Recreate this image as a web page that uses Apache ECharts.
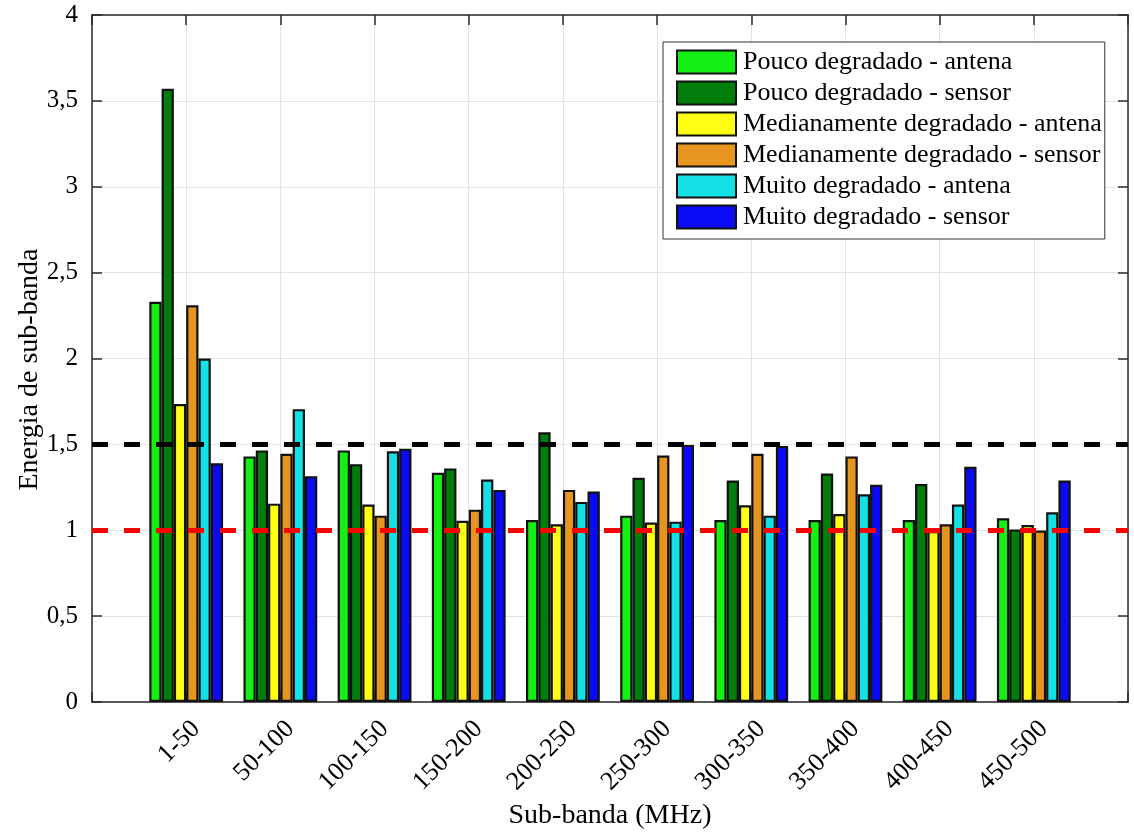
<!DOCTYPE html>
<html>
<head>
<meta charset="utf-8">
<title>Energia de sub-banda</title>
<script src="https://cdn.jsdelivr.net/npm/echarts@6/dist/echarts.min.js"></script>
<style>
  html, body { margin: 0; padding: 0; background: #fff; }
  #chart { width: 1134px; height: 834px; }
</style>
</head>
<body>
<div id="chart"></div>
<script>
// Sub-bands (MHz)
const subBandas = ['1-50', '50-100', '100-150', '150-200', '200-250',
                   '250-300', '300-350', '350-400', '400-450', '450-500'];

// Sub-band energy for each degradation level and measuring device
const poucoAntena   = [2.33, 1.43, 1.465, 1.335, 1.06, 1.085, 1.06, 1.06, 1.06, 1.07];
const poucoSensor   = [3.57, 1.465, 1.385, 1.36, 1.57, 1.305, 1.29, 1.33, 1.27, 1.005];
const medianoAntena = [1.735, 1.155, 1.15, 1.055, 1.035, 1.045, 1.145, 1.095, 0.995, 1.03];
const medianoSensor = [2.31, 1.445, 1.085, 1.12, 1.235, 1.435, 1.445, 1.43, 1.035, 0.998];
const muitoAntena   = [2.0, 1.705, 1.46, 1.295, 1.165, 1.05, 1.085, 1.21, 1.15, 1.105];
const muitoSensor   = [1.39, 1.315, 1.475, 1.235, 1.225, 1.497, 1.49, 1.265, 1.37, 1.29];

const nomesSeries = [
  'Pouco degradado - antena',
  'Pouco degradado - sensor',
  'Medianamente degradado - antena',
  'Medianamente degradado - sensor',
  'Muito degradado - antena',
  'Muito degradado - sensor'
];

// Reference levels (upper and lower threshold)
const limiares = [1.5, 1.0];

// Y axis ticks
const yTicks = [0, 0.5, 1, 1.5, 2, 2.5, 3, 3.5, 4];

const valores = [poucoAntena, poucoSensor, medianoAntena, medianoSensor, muitoAntena, muitoSensor];
const cores = ['#14f014', '#007d0a', '#ffff14', '#e6961e', '#14e1e6', '#0a0af5'];
const fonte = "'Liberation Serif', 'Times New Roman', serif";

// empty slots at both ends so the bars sit at x = 1..10 on a 0..11 axis
const eixoX = [''].concat(subBandas, ['']);
const pad = (arr) => [null].concat(arr, [null]);

const chart = echarts.init(document.getElementById('chart'), null, { renderer: 'canvas' });

const eixoCor = '#2b2b2b';
const gradeCor = '#e3e3e3';

const series = valores.map((v, i) => ({
  name: nomesSeries[i],
  type: 'bar',
  xAxisIndex: 0,
  yAxisIndex: 0,
  data: pad(v),
  barWidth: 12.3,
  barGap: 0,
  itemStyle: { color: cores[i], borderColor: '#111111', borderWidth: 2.2 },
  emphasis: { disabled: true }
}));

series[series.length - 1].markLine = {
  silent: true,
  symbol: 'none',
  label: { show: false },
  lineStyle: { type: [16, 16], width: 5 },
  data: [
    { yAxis: limiares[0], lineStyle: { color: '#000000', type: [16, 16], width: 5 } },
    { yAxis: limiares[1], lineStyle: { color: '#ff0000', type: [16, 16], width: 5 } }
  ]
};

const yMin = yTicks[0], yMax = yTicks[yTicks.length - 1], yStep = yTicks[1] - yTicks[0];

const eixoLinha = { show: true, onZero: false, lineStyle: { color: eixoCor, width: 1.5 } };
const ticksDentro = { show: true, inside: true, length: 10, lineStyle: { color: eixoCor, width: 1.5 } };

chart.setOption({
  animation: false,
  backgroundColor: '#ffffff',
  grid: [
    { left: 92, top: 15, right: 6, bottom: 132, containLabel: false, outerBoundsMode: 'none' },
    // companion grid, nudged right, that only carries the slanted category labels
    { left: 102, top: 15, width: 1036, bottom: 132, containLabel: false, outerBoundsMode: 'none', show: false }
  ],
  legend: {
    orient: 'vertical',
    left: 663,
    top: 42,
    z: 20,
    icon: 'rect',
    itemWidth: 59,
    itemHeight: 23,
    itemGap: 5,
    padding: [7, 3, 9, 13],
    backgroundColor: '#ffffff',
    borderColor: '#333333',
    borderWidth: 1,
    borderRadius: 0,
    selectedMode: false,
    textStyle: { fontFamily: fonte, fontSize: 26, lineHeight: 23, color: '#000', padding: [0, 0, 0, 2] },
    data: nomesSeries
  },
  xAxis: [
    {
      gridIndex: 0,
      type: 'category',
      data: eixoX,
      boundaryGap: false,
      position: 'bottom',
      name: 'Sub-banda (MHz)',
      nameLocation: 'middle',
      nameGap: 100,
      nameMoveOverlap: false,
      nameTextStyle: { fontFamily: fonte, fontSize: 28, color: '#000' },
      axisLine: eixoLinha,
      axisTick: Object.assign({ interval: 0 }, ticksDentro),
      axisLabel: { show: false },
      splitLine: { show: true, interval: 0, lineStyle: { color: gradeCor, width: 1 } }
    },
    {
      gridIndex: 0,
      type: 'category',
      data: eixoX,
      boundaryGap: false,
      position: 'top',
      axisLine: eixoLinha,
      axisTick: Object.assign({ interval: 0 }, ticksDentro),
      axisLabel: { show: false },
      splitLine: { show: false }
    },
    {
      gridIndex: 1,
      type: 'category',
      data: eixoX,
      boundaryGap: false,
      position: 'bottom',
      axisLine: { show: false },
      axisTick: { show: false },
      axisLabel: { interval: 0, rotate: 45, margin: 23, fontFamily: fonte, fontSize: 26, color: '#000' },
      splitLine: { show: false }
    }
  ],
  yAxis: [
    {
      gridIndex: 0,
      type: 'value',
      min: yMin,
      max: yMax,
      interval: yStep,
      position: 'left',
      name: 'Energia de sub-banda',
      nameLocation: 'middle',
      nameGap: 48,
      nameMoveOverlap: false,
      nameTextStyle: { fontFamily: fonte, fontSize: 28, color: '#000', padding: [0, 22, 0, 0] },
      axisLine: eixoLinha,
      axisTick: ticksDentro,
      axisLabel: {
        margin: 14,
        fontFamily: fonte, fontSize: 25, color: '#000',
        formatter: (v) => String(v).replace('.', ',')
      },
      splitLine: { show: true, lineStyle: { color: gradeCor, width: 1 } }
    },
    {
      gridIndex: 0,
      type: 'value',
      min: yMin,
      max: yMax,
      interval: yStep,
      position: 'right',
      axisLine: eixoLinha,
      axisTick: ticksDentro,
      axisLabel: { show: false },
      splitLine: { show: false }
    },
    {
      gridIndex: 1,
      type: 'value',
      min: yMin,
      max: yMax,
      show: false
    }
  ],
  series: series
});
</script>
</body>
</html>
